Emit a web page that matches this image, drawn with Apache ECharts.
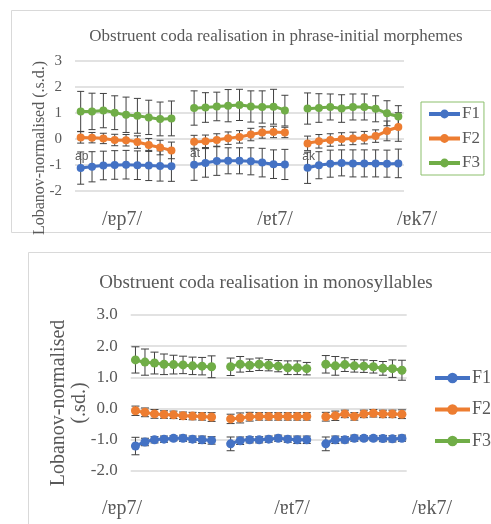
<!DOCTYPE html>
<html>
<head>
<meta charset="utf-8">
<script src="https://cdn.jsdelivr.net/npm/echarts@6/dist/echarts.min.js"></script>
<style>
html,body{margin:0;padding:0;background:#fff;}
#c{width:491px;height:524px;}
</style>
</head>
<body>
<div id="c"></div>
<script>
// ---------- DATA ----------
const categories = ['ap1','ap2','ap3','ap4','ap5','ap6','ap7','ap8','ap9','gap1',
  'at1','at2','at3','at4','at5','at6','at7','at8','at9','gap2',
  'ak1','ak2','ak3','ak4','ak5','ak6','ak7','ak8','ak9'];
const segmentTags = ['ap','at','ak'];
const segmentStart = [0,10,20];
const groupLabels = ['/ɐp7/','/ɐt7/','/ɐk7/'];
const yTicksTop = [-2,-1,0,1,2,3];
const yTicksBottom = ['-2.0','-1.0','0.0','1.0','2.0','3.0'];
const titleTop = 'Obstruent coda realisation in phrase-initial morphemes';
const titleBottom = 'Obstruent coda realisation in monosyllables';
const seriesNames = ['F1','F2','F3'];

// phrase-initial morphemes (top)
const topF1 = [-1.13,-1.08,-1.03,-1.01,-1.0,-1.02,-1.03,-1.05,-1.06,null,
  -1.0,-0.93,-0.86,-0.85,-0.85,-0.87,-0.92,-0.98,-0.99,null,
  -1.12,-1.02,-0.96,-0.93,-0.95,-0.95,-0.95,-0.96,-0.95];
const topF1sd = [0.62,0.58,0.55,0.55,0.55,0.55,0.58,0.58,0.58,null,
  0.6,0.55,0.55,0.5,0.5,0.52,0.55,0.55,0.58,null,
  0.6,0.52,0.52,0.5,0.52,0.52,0.52,0.52,0.55];
const topF2 = [0.05,0.04,0.01,-0.05,-0.06,-0.13,-0.24,-0.34,-0.45,null,
  -0.12,-0.1,-0.05,0.02,0.07,0.16,0.24,0.26,0.24,null,
  -0.18,-0.1,-0.05,-0.01,0.01,0.04,0.1,0.3,0.45];
const topF2sd = [0.22,0.2,0.2,0.22,0.22,0.24,0.25,0.28,0.32,null,
  0.25,0.24,0.24,0.24,0.24,0.24,0.22,0.22,0.2,null,
  0.28,0.26,0.24,0.24,0.24,0.24,0.24,0.38,0.55];
const topF3 = [1.05,1.05,1.08,1.0,0.92,0.88,0.82,0.76,0.78,null,
  1.18,1.2,1.24,1.27,1.3,1.24,1.22,1.23,1.08,null,
  1.16,1.18,1.22,1.16,1.22,1.22,1.15,0.98,0.85];
const topF3sd = [0.77,0.7,0.66,0.65,0.68,0.67,0.66,0.65,0.67,null,
  0.66,0.57,0.55,0.62,0.6,0.6,0.62,0.67,0.59,null,
  0.6,0.55,0.5,0.53,0.5,0.5,0.5,0.48,0.42];

// monosyllables (bottom)
const botF1 = [-1.2,-1.07,-1.0,-0.98,-0.95,-0.95,-0.98,-1.0,-1.02,null,
  -1.13,-1.03,-1.0,-1.0,-0.98,-0.95,-0.98,-1.0,-1.0,null,
  -1.13,-1.0,-1.0,-0.95,-0.95,-0.95,-0.96,-0.97,-0.95];
const botF1sd = [0.28,0.12,0.1,0.1,0.08,0.1,0.1,0.12,0.12,null,
  0.22,0.12,0.1,0.1,0.1,0.1,0.1,0.12,0.12,null,
  0.22,0.12,0.1,0.1,0.08,0.08,0.1,0.1,0.1];
const botF2 = [-0.07,-0.12,-0.17,-0.19,-0.2,-0.23,-0.24,-0.25,-0.27,null,
  -0.33,-0.3,-0.26,-0.25,-0.25,-0.25,-0.25,-0.25,-0.25,null,
  -0.26,-0.23,-0.17,-0.25,-0.17,-0.15,-0.17,-0.17,-0.18];
const botF2sd = [0.15,0.14,0.14,0.12,0.12,0.12,0.12,0.12,0.14,null,
  0.15,0.16,0.14,0.12,0.12,0.12,0.12,0.12,0.12,null,
  0.14,0.15,0.12,0.12,0.12,0.12,0.12,0.12,0.14];
const botF3 = [1.56,1.49,1.46,1.42,1.41,1.4,1.37,1.36,1.34,null,
  1.34,1.42,1.39,1.42,1.39,1.36,1.31,1.31,1.28,null,
  1.42,1.37,1.41,1.37,1.36,1.34,1.29,1.28,1.23];
const botF3sd = [0.42,0.42,0.35,0.33,0.3,0.28,0.28,0.28,0.35,null,
  0.28,0.25,0.2,0.2,0.18,0.18,0.22,0.22,0.2,null,
  0.28,0.3,0.22,0.2,0.2,0.2,0.22,0.28,0.32];

// ---------- STYLE ----------
const colors = ['#4472C4','#ED7D31','#70AD47'];
const serif = '"Liberation Serif","DejaVu Serif","Times New Roman",serif';
const txt = '#595959';

function errData(mean, sd){
  const out = [];
  mean.forEach((v,i)=>{ if(v!==null && sd[i]!==null) out.push([i, v - sd[i], v + sd[i]]); });
  return out;
}
function errSeries(mean, sd, gi, cap){
  return {
    type:'custom', xAxisIndex:gi, yAxisIndex:gi, silent:true, z:1,
    renderItem:function(params, api){
      const x = api.value(0);
      const p1 = api.coord([x, api.value(2)]);
      const p2 = api.coord([x, api.value(1)]);
      const w = cap/2;
      const st = {stroke:'#404040', lineWidth:1};
      return {type:'group', children:[
        {type:'line', shape:{x1:p1[0],y1:p1[1],x2:p2[0],y2:p2[1]}, style:st},
        {type:'line', shape:{x1:p1[0]-w,y1:p1[1],x2:p1[0]+w,y2:p1[1]}, style:st},
        {type:'line', shape:{x1:p2[0]-w,y1:p2[1],x2:p2[0]+w,y2:p2[1]}, style:st}
      ]};
    },
    data: errData(mean, sd)
  };
}
function lineSeries(name, mean, gi, ci, size, tags){
  const data = mean.map((v,i)=>{
    if(v===null) return '-';
    const k = tags ? segmentStart.indexOf(i) : -1;
    if(k>=0) return {value:v, label:{show:true, formatter:segmentTags[k], position:'top', distance:1, offset:[1,0],
      color:txt, fontFamily:'"Liberation Sans",Arial,sans-serif', fontSize:12}};
    return v;
  });
  return {
    name:name, type:'line', xAxisIndex:gi, yAxisIndex:gi, z:3,
    smooth:0.3, connectNulls:false, symbol:'circle', symbolSize:size,
    showSymbol:true, showAllSymbol:true,
    lineStyle:{width:3, color:colors[ci]}, itemStyle:{color:colors[ci]},
    data:data
  };
}

const chart = echarts.init(document.getElementById('c'), null, {renderer:'canvas'});
const option = {
  backgroundColor:'#fff',
  animation:false,
  color:colors,
  title:[
    {text:titleTop, left:271, top:23, textAlign:'center',
      textStyle:{fontFamily:serif, fontSize:17, fontWeight:'normal', color:txt}},
    {text:titleBottom, left:261, top:269, textAlign:'center',
      textStyle:{fontFamily:serif, fontSize:19, fontWeight:'normal', color:txt}}
  ],
  legend:[
    {data:seriesNames, orient:'vertical', left:421, top:102, itemWidth:31, itemHeight:11, itemGap:6.5,
      padding:[3,4,3,6], borderColor:'#8cbf6c', borderWidth:1, itemStyle:{borderWidth:0},
      lineStyle:{width:4},
      textStyle:{fontFamily:serif, fontSize:17, color:txt, lineHeight:18, padding:[0,0,0,-3]}},
    {data:seriesNames, orient:'vertical', left:433, top:368, itemWidth:35, itemHeight:13, itemGap:11.5,
      padding:0, itemStyle:{borderWidth:0}, lineStyle:{width:4},
      textStyle:{fontFamily:serif, fontSize:18, color:txt, lineHeight:20, padding:[0,0,0,-3]}}
  ],
  grid:[
    {left:75, top:60.7, width:329, height:130},
    {left:130.7, top:315, width:276, height:156}
  ],
  xAxis:[
    {type:'category', gridIndex:0, data:categories, boundaryGap:true,
      axisLine:{show:false}, axisTick:{show:false}, axisLabel:{show:false}},
    {type:'category', gridIndex:1, data:categories, boundaryGap:true,
      axisLine:{show:false}, axisTick:{show:false}, axisLabel:{show:false}}
  ],
  yAxis:[
    {type:'value', gridIndex:0, min:yTicksTop[0], max:yTicksTop[yTicksTop.length-1], interval:1,
      axisLine:{show:false}, axisTick:{show:false},
      axisLabel:{margin:13, fontFamily:serif, fontSize:15, color:txt},
      splitLine:{lineStyle:{color:'#d9d9d9', width:1.5}}},
    {type:'value', gridIndex:1, min:-2, max:3, interval:1,
      axisLine:{show:false}, axisTick:{show:false},
      axisLabel:{margin:13, fontFamily:serif, fontSize:17, color:txt,
        formatter:function(v){ return yTicksBottom[Math.round(v+2)]; }},
      splitLine:{lineStyle:{color:'#d9d9d9', width:1.5}}}
  ],
  graphic:[
    {type:'rect', shape:{x:11.5, y:10.5, width:490, height:222}, style:{fill:null, stroke:'#d9d9d9', lineWidth:1}, z:-1, silent:true},
    {type:'rect', shape:{x:28.5, y:252.5, width:480, height:290}, style:{fill:null, stroke:'#d9d9d9', lineWidth:1}, z:-1, silent:true},
    {type:'text', x:40, y:148, rotation:Math.PI/2, style:{text:'Lobanov-normalised (.s.d.)', font:'16px '+serif, fill:txt, textAlign:'center', textVerticalAlign:'middle'}},
    {type:'text', x:59, y:403, rotation:Math.PI/2, style:{text:'Lobanov-normalised', font:'20px '+serif, fill:txt, textAlign:'center', textVerticalAlign:'middle'}},
    {type:'text', x:80, y:403, rotation:Math.PI/2, style:{text:'(.sd.)', font:'20px '+serif, fill:txt, textAlign:'center', textVerticalAlign:'middle'}},
    {type:'text', x:122, y:220, style:{text:groupLabels[0], font:'20px '+serif, fill:txt, textAlign:'center', textVerticalAlign:'middle'}},
    {type:'text', x:275, y:220, style:{text:groupLabels[1], font:'20px '+serif, fill:txt, textAlign:'center', textVerticalAlign:'middle'}},
    {type:'text', x:417, y:220, style:{text:groupLabels[2], font:'20px '+serif, fill:txt, textAlign:'center', textVerticalAlign:'middle'}},
    {type:'text', x:122, y:509, style:{text:groupLabels[0], font:'20px '+serif, fill:txt, textAlign:'center', textVerticalAlign:'middle'}},
    {type:'text', x:292, y:509, style:{text:groupLabels[1], font:'20px '+serif, fill:txt, textAlign:'center', textVerticalAlign:'middle'}},
    {type:'text', x:432, y:509, style:{text:groupLabels[2], font:'20px '+serif, fill:txt, textAlign:'center', textVerticalAlign:'middle'}}
  ],
  series:[
    lineSeries('F1', topF1, 0, 0, 8, true),
    lineSeries('F2', topF2, 0, 1, 8, false),
    lineSeries('F3', topF3, 0, 2, 8, false),
    errSeries(topF1, topF1sd, 0, 7),
    errSeries(topF2, topF2sd, 0, 7),
    errSeries(topF3, topF3sd, 0, 7),
    lineSeries('F1', botF1, 1, 0, 9, false),
    lineSeries('F2', botF2, 1, 1, 9, false),
    lineSeries('F3', botF3, 1, 2, 9, false),
    errSeries(botF1, botF1sd, 1, 8),
    errSeries(botF2, botF2sd, 1, 8),
    errSeries(botF3, botF3sd, 1, 8)
  ]
};
chart.setOption(option);
</script>
</body>
</html>
